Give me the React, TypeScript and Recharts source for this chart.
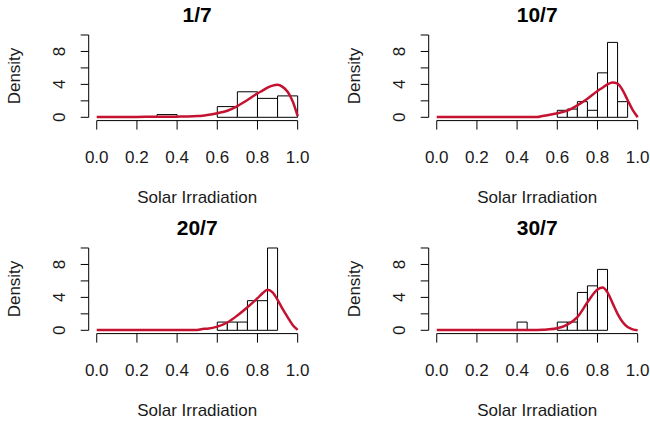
import React from 'react';
import { ComposedChart, Line, XAxis, YAxis, ReferenceArea, ReferenceLine, Label } from 'recharts';

// ---------- data ----------
const panelTitles = ['1/7', '10/7', '20/7', '30/7'];
const xTicks = [0, 0.2, 0.4, 0.6, 0.8, 1.0];
const yTicks = [0, 2, 4, 6, 8, 10];
const yLabelTicks = [0, 4, 8];

// histogram bins (lower edge, width, density)
const bins1Start = [0.3, 0.6, 0.7, 0.8, 0.9];
const bins1Density = [0.33, 1.3, 3.1, 2.3, 2.6];
const bins1Width = 0.1;

const bins2Start = [0.6, 0.65, 0.7, 0.75, 0.8, 0.85, 0.9];
const bins2Density = [0.85, 1.0, 1.9, 0.85, 5.4, 9.1, 1.9];
const bins2Width = 0.05;

const bins3Start = [0.6, 0.65, 0.7, 0.75, 0.8, 0.85];
const bins3Density = [1.0, 1.0, 1.0, 3.6, 3.6, 10.0];
const bins3Width = 0.05;

const bins4Start = [0.4, 0.6, 0.65, 0.7, 0.75, 0.8];
const bins4Density = [1.0, 1.0, 1.0, 4.6, 5.4, 7.4];
const bins4Width = 0.05;

// fitted density curves
const curveX = [0, 0.1, 0.2, 0.3, 0.4, 0.45, 0.5, 0.525, 0.55, 0.6, 0.65, 0.7, 0.75, 0.8, 0.825, 0.85, 0.875, 0.9, 0.925, 0.95, 0.975, 1.0];
const curve1 = [0.05, 0.05, 0.05, 0.06, 0.08, 0.1, 0.15, 0.2, 0.28, 0.5, 0.8, 1.37, 2.1, 2.9, 3.25, 3.6, 3.85, 3.95, 3.7, 3.1, 1.95, 0.15];
const curve2 = [0.05, 0.05, 0.05, 0.05, 0.05, 0.05, 0.05, 0.15, 0.25, 0.5, 0.82, 1.45, 2.25, 3.2, 3.6, 4.0, 4.22, 4.1, 3.3, 2.1, 0.9, 0.02];
const curve3 = [0.05, 0.05, 0.05, 0.05, 0.05, 0.05, 0.05, 0.15, 0.2, 0.45, 0.95, 1.8, 2.8, 3.9, 4.5, 4.93, 4.6, 3.7, 2.6, 1.6, 0.65, 0.05];
const curve4 = [0.05, 0.05, 0.05, 0.05, 0.05, 0.05, 0.05, 0.06, 0.1, 0.25, 0.7, 1.6, 3.4, 4.95, 5.2, 4.6, 3.3, 2.0, 1.0, 0.4, 0.12, 0.02];

const panels = [
  { title: panelTitles[0], starts: bins1Start, dens: bins1Density, width: bins1Width, curve: curve1, left: 0, top: 0 },
  { title: panelTitles[1], starts: bins2Start, dens: bins2Density, width: bins2Width, curve: curve2, left: 340, top: 0 },
  { title: panelTitles[2], starts: bins3Start, dens: bins3Density, width: bins3Width, curve: curve3, left: 0, top: 213 },
  { title: panelTitles[3], starts: bins4Start, dens: bins4Density, width: bins4Width, curve: curve4, left: 340, top: 213 },
];

const FONT = '"Liberation Sans", Arial, sans-serif';
const TXT = '#1a1a1a';
const RED = '#c41230';

const W = 325;
const H = 213;
const M_TOP = 31.7;
const M_RIGHT = 19.3;
const Y_W = 88.7;
const X_H = 92.4;
const CX = Y_W + (W - Y_W - M_RIGHT) / 2;

const XTick = (props: any) => {
  const { x, payload } = props;
  return (
    <text x={x} y={162.8} textAnchor="middle" fontSize={17} fontFamily={FONT} fill={TXT}>
      {Number(payload.value).toFixed(1)}
    </text>
  );
};

const YTick = (props: any) => {
  const { y, payload } = props;
  if (!yLabelTicks.includes(payload.value)) return <g />;
  const bx = 65;
  return (
    <text x={bx} y={y} transform={`rotate(-90 ${bx} ${y})`} textAnchor="middle" fontSize={17} fontFamily={FONT} fill={TXT}>
      {payload.value}
    </text>
  );
};

function Panel({ p }: { p: any }) {
  const data = curveX.map((x, i) => ({ x, y: p.curve[i] }));
  return (
    <div style={{ position: 'absolute', left: p.left, top: p.top, width: W, height: H }}>
      <ComposedChart width={W} height={H} data={data} margin={{ top: M_TOP, right: M_RIGHT, bottom: 0, left: 0 }}>
        <XAxis
          type="number"
          dataKey="x"
          domain={[-0.04, 1.04]}
          ticks={xTicks}
          interval={0}
          axisLine={false}
          tickLine={{ stroke: '#000' }}
          tickSize={9}
          tick={<XTick />}
          height={X_H}
          allowDataOverflow
        >
          <Label
            content={() => (
              <text x={CX} y={202.5} textAnchor="middle" fontSize={17} fontFamily={FONT} fill={TXT}>
                Solar Irradiation
              </text>
            )}
          />
          <Label
            content={() => (
              <text x={CX} y={22} textAnchor="middle" fontSize={21} fontWeight="bold" fontFamily={FONT} fill="#000">
                {p.title}
              </text>
            )}
          />
        </XAxis>
        <YAxis
          type="number"
          domain={[-0.4, 10.4]}
          ticks={yTicks}
          interval={0}
          axisLine={false}
          tickLine={{ stroke: '#000' }}
          tickSize={8}
          tick={<YTick />}
          width={Y_W}
          allowDataOverflow
        >
          <Label
            content={() => (
              <text x={20} y={76} transform="rotate(-90 20 76)" textAnchor="middle" fontSize={17} fontFamily={FONT} fill={TXT}>
                Density
              </text>
            )}
          />
        </YAxis>
        <ReferenceLine segment={[{ x: -0.04, y: 0 }, { x: -0.04, y: 10 }]} stroke="#000" strokeWidth={1} ifOverflow="visible" />
        <ReferenceLine segment={[{ x: 0, y: -0.4 }, { x: 1, y: -0.4 }]} stroke="#000" strokeWidth={1} ifOverflow="visible" />
        {p.starts.map((s: number, i: number) => (
          <ReferenceArea
            key={i}
            x1={s}
            x2={s + p.width}
            y1={0}
            y2={p.dens[i]}
            fill="#ffffff"
            fillOpacity={1}
            stroke="#000"
            strokeWidth={1}
            ifOverflow="visible"
          />
        ))}
        <Line type="monotone" dataKey="y" stroke={RED} strokeWidth={2.5} dot={false} isAnimationActive={false} />
      </ComposedChart>
    </div>
  );
}

export default function App() {
  return (
    <div style={{ position: 'absolute', left: 0, top: 0, width: 650, height: 426, overflow: 'hidden', background: '#fff' }}>
      {panels.map((p, i) => (
        <Panel key={i} p={p} />
      ))}
    </div>
  );
}
